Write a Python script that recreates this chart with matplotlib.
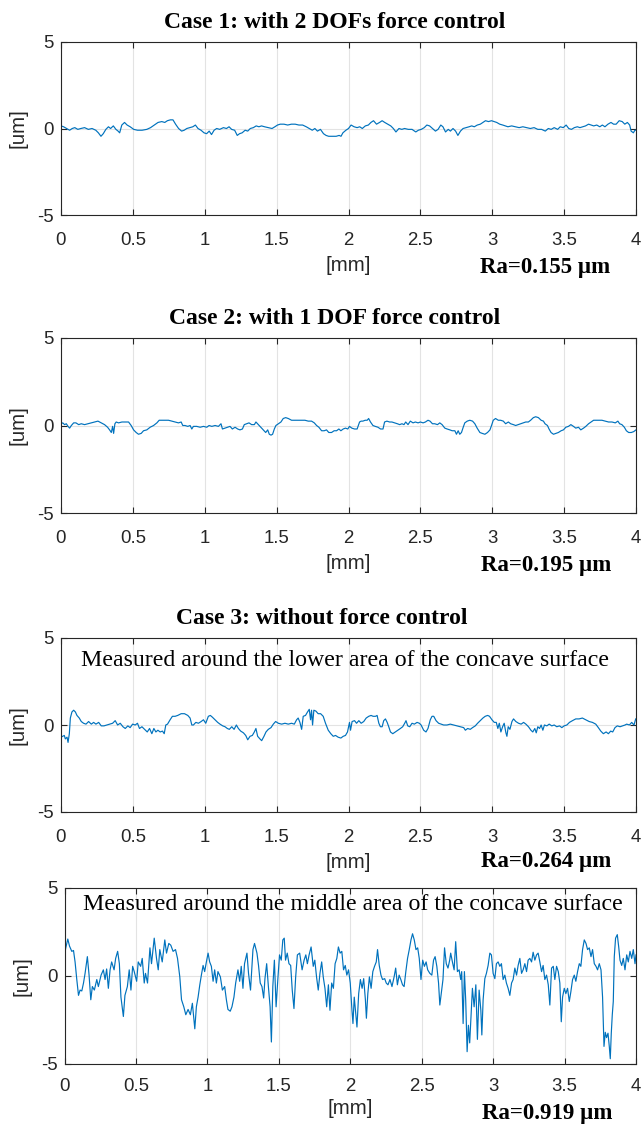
import matplotlib
matplotlib.use("Agg")
import matplotlib.pyplot as plt
import numpy as np

# --- profile data, (position [mm], height [um]) ---
case1_profile = [
    (0.000, 0.15), (0.018, 0.1), (0.039, 0.0), (0.060, -0.1), (0.078, 0.0), (0.096, 0.05),
    (0.117, -0.05), (0.138, 0.0), (0.164, 0.05), (0.190, -0.05), (0.216, 0.0), (0.242, -0.1),
    (0.260, -0.25), (0.278, -0.45), (0.294, -0.3), (0.312, -0.05), (0.330, 0.1), (0.345, 0.0),
    (0.364, 0.15), (0.382, -0.05), (0.397, -0.15), (0.408, -0.25), (0.423, 0.2), (0.442, 0.35),
    (0.460, 0.2), (0.481, 0.1), (0.506, -0.05), (0.532, -0.1), (0.564, -0.1), (0.597, -0.05),
    (0.623, 0.05), (0.649, 0.2), (0.675, 0.35), (0.701, 0.4), (0.722, 0.35), (0.740, 0.45),
    (0.761, 0.5), (0.779, 0.5), (0.797, 0.25), (0.818, 0.0), (0.839, -0.15), (0.857, -0.1),
    (0.875, 0.0), (0.896, 0.05), (0.917, 0.1), (0.935, 0.2), (0.953, 0.0), (0.974, -0.1),
    (0.995, -0.25), (1.013, -0.3), (1.031, -0.15), (1.047, -0.35), (1.065, -0.1), (1.083, 0.0),
    (1.104, -0.05), (1.130, 0.05), (1.151, 0.0), (1.169, 0.1), (1.187, -0.05), (1.208, -0.1),
    (1.226, -0.4), (1.242, -0.3), (1.260, -0.25), (1.281, -0.1), (1.299, -0.15), (1.317, 0.0),
    (1.338, 0.05), (1.358, 0.15), (1.377, 0.1), (1.395, 0.15), (1.416, 0.1), (1.442, 0.05),
    (1.468, 0.0), (1.488, 0.1), (1.506, 0.2), (1.525, 0.25), (1.551, 0.25), (1.577, 0.2),
    (1.603, 0.25), (1.629, 0.25), (1.655, 0.2), (1.681, 0.2), (1.706, 0.1), (1.727, 0.0),
    (1.748, -0.1), (1.766, 0.0), (1.784, -0.15), (1.805, -0.05), (1.826, -0.3), (1.844, -0.4),
    (1.862, -0.45), (1.888, -0.45), (1.914, -0.45), (1.935, -0.4), (1.948, -0.45), (1.961, -0.25),
    (1.982, -0.1), (2.000, 0.0), (2.018, 0.2), (2.039, 0.1), (2.060, 0.05), (2.078, 0.1),
    (2.096, 0.0), (2.117, 0.15), (2.138, 0.2), (2.156, 0.35), (2.174, 0.45), (2.195, 0.25),
    (2.216, 0.35), (2.234, 0.45), (2.252, 0.35), (2.273, 0.25), (2.294, 0.15), (2.312, 0.0),
    (2.330, -0.2), (2.351, 0.0), (2.371, -0.05), (2.390, 0.0), (2.416, -0.05), (2.442, -0.05),
    (2.468, -0.2), (2.486, -0.1), (2.506, -0.05), (2.527, 0.05), (2.545, 0.2), (2.564, 0.15),
    (2.584, 0.0), (2.605, -0.15), (2.623, -0.05), (2.642, 0.2), (2.657, 0.1), (2.675, -0.2),
    (2.694, -0.05), (2.709, -0.15), (2.727, 0.0), (2.745, -0.15), (2.761, -0.4), (2.779, -0.15),
    (2.797, 0.0), (2.818, 0.05), (2.839, 0.1), (2.857, 0.15), (2.875, 0.1), (2.896, 0.2),
    (2.917, 0.25), (2.935, 0.35), (2.953, 0.45), (2.974, 0.4), (2.995, 0.45), (3.013, 0.4),
    (3.031, 0.35), (3.052, 0.25), (3.073, 0.2), (3.091, 0.15), (3.109, 0.1), (3.135, 0.15),
    (3.161, 0.1), (3.187, 0.05), (3.213, 0.1), (3.239, 0.05), (3.265, 0.0), (3.291, 0.05),
    (3.317, -0.05), (3.343, -0.05), (3.369, -0.15), (3.390, 0.0), (3.410, -0.05), (3.431, 0.05),
    (3.455, -0.05), (3.473, 0.1), (3.494, 0.05), (3.514, 0.2), (3.532, 0.0), (3.551, -0.05),
    (3.571, 0.05), (3.592, 0.1), (3.610, 0.05), (3.629, 0.1), (3.649, 0.15), (3.670, 0.25),
    (3.688, 0.2), (3.706, 0.15), (3.727, 0.2), (3.748, 0.1), (3.766, 0.2), (3.784, 0.1),
    (3.805, 0.25), (3.826, 0.35), (3.844, 0.25), (3.862, 0.25), (3.883, 0.45), (3.904, 0.4),
    (3.922, 0.25), (3.940, 0.35), (3.956, 0.2), (3.966, -0.15), (3.982, -0.25), (3.992, -0.1),
    (4.000, -0.1),
]

case2_profile = [
    (0.000, 0.1), (0.012, 0.15), (0.025, 0.05), (0.037, 0.1), (0.049, -0.05), (0.060, -0.15),
    (0.072, 0.0), (0.088, 0.15), (0.104, 0.15), (0.123, 0.05), (0.141, 0.1), (0.164, 0.05),
    (0.188, 0.1), (0.211, 0.15), (0.234, 0.2), (0.257, 0.25), (0.280, 0.15), (0.303, 0.05),
    (0.324, -0.1), (0.338, -0.25), (0.350, -0.4), (0.359, -0.05), (0.366, -0.45), (0.375, 0.1),
    (0.384, 0.2), (0.400, 0.15), (0.424, 0.2), (0.447, 0.2), (0.470, 0.2), (0.488, 0.0),
    (0.505, -0.25), (0.523, -0.4), (0.539, -0.5), (0.558, -0.45), (0.574, -0.3), (0.597, -0.25),
    (0.620, -0.1), (0.644, 0.0), (0.667, 0.15), (0.683, 0.3), (0.701, 0.3), (0.725, 0.3),
    (0.748, 0.3), (0.771, 0.25), (0.794, 0.2), (0.817, 0.15), (0.836, 0.2), (0.847, 0.0),
    (0.863, 0.0), (0.882, -0.05), (0.898, 0.0), (0.910, -0.2), (0.921, -0.05), (0.944, -0.05),
    (0.968, -0.1), (0.991, -0.05), (1.014, -0.1), (1.030, 0.0), (1.049, -0.05), (1.072, 0.0),
    (1.095, -0.05), (1.113, 0.1), (1.123, -0.2), (1.141, -0.15), (1.160, -0.1), (1.176, -0.05),
    (1.192, -0.2), (1.211, -0.1), (1.229, -0.2), (1.245, -0.25), (1.262, -0.2), (1.275, 0.05),
    (1.292, 0.1), (1.308, 0.15), (1.326, 0.05), (1.345, 0.05), (1.356, 0.2), (1.373, 0.05),
    (1.389, -0.1), (1.407, -0.25), (1.424, -0.4), (1.438, -0.25), (1.449, -0.5), (1.461, -0.55),
    (1.472, -0.5), (1.484, -0.2), (1.495, 0.0), (1.512, 0.1), (1.530, 0.2), (1.546, 0.4),
    (1.563, 0.45), (1.581, 0.4), (1.604, 0.3), (1.627, 0.3), (1.650, 0.3), (1.674, 0.3),
    (1.697, 0.3), (1.720, 0.25), (1.743, 0.25), (1.762, 0.15), (1.778, 0.0), (1.794, -0.1),
    (1.813, -0.3), (1.831, -0.3), (1.847, -0.25), (1.863, -0.4), (1.882, -0.4), (1.900, -0.3),
    (1.917, -0.3), (1.933, -0.2), (1.947, -0.3), (1.963, -0.2), (1.979, -0.15), (1.995, -0.2),
    (2.007, -0.05), (2.023, -0.15), (2.042, -0.2), (2.060, -0.2), (2.077, 0.2), (2.088, 0.25),
    (2.100, 0.25), (2.116, 0.3), (2.130, 0.3), (2.140, 0.4), (2.153, 0.2), (2.170, 0.0),
    (2.186, -0.05), (2.205, -0.1), (2.223, -0.2), (2.240, -0.2), (2.251, 0.2), (2.267, 0.25),
    (2.286, 0.2), (2.302, 0.2), (2.321, 0.15), (2.340, 0.1), (2.356, 0.05), (2.372, 0.1),
    (2.386, 0.05), (2.398, 0.2), (2.414, 0.05), (2.430, 0.25), (2.449, 0.15), (2.465, 0.2),
    (2.484, 0.15), (2.500, 0.2), (2.519, 0.15), (2.535, 0.2), (2.553, 0.3), (2.567, 0.25),
    (2.584, 0.1), (2.600, 0.1), (2.619, 0.05), (2.635, 0.15), (2.651, 0.05), (2.670, -0.15),
    (2.686, -0.2), (2.705, -0.25), (2.721, -0.3), (2.740, -0.3), (2.751, -0.5), (2.763, -0.3),
    (2.774, -0.5), (2.786, -0.4), (2.798, -0.1), (2.809, 0.15), (2.826, 0.25), (2.844, 0.3),
    (2.863, 0.25), (2.879, 0.1), (2.895, -0.15), (2.914, -0.4), (2.930, -0.45), (2.949, -0.5),
    (2.967, -0.4), (2.984, -0.25), (2.995, 0.0), (3.007, 0.3), (3.023, 0.4), (3.042, 0.3),
    (3.058, 0.3), (3.077, 0.25), (3.093, 0.1), (3.112, 0.2), (3.128, 0.1), (3.147, 0.05),
    (3.163, 0.0), (3.181, 0.05), (3.198, 0.1), (3.216, 0.15), (3.233, 0.2), (3.251, 0.2),
    (3.267, 0.3), (3.286, 0.45), (3.302, 0.5), (3.321, 0.45), (3.340, 0.3), (3.356, 0.25),
    (3.367, 0.1), (3.384, 0.0), (3.395, -0.2), (3.409, -0.4), (3.426, -0.5), (3.442, -0.45),
    (3.460, -0.4), (3.479, -0.3), (3.495, -0.25), (3.512, -0.1), (3.530, -0.05), (3.547, 0.05),
    (3.565, -0.05), (3.581, -0.15), (3.600, -0.1), (3.616, -0.25), (3.635, -0.15), (3.651, -0.05),
    (3.670, 0.1), (3.688, 0.2), (3.705, 0.3), (3.721, 0.3), (3.740, 0.3), (3.763, 0.3),
    (3.786, 0.25), (3.809, 0.2), (3.833, 0.2), (3.856, 0.15), (3.874, 0.25), (3.886, 0.1),
    (3.902, 0.05), (3.919, -0.1), (3.933, -0.3), (3.949, -0.4), (3.967, -0.4), (3.984, -0.35),
    (4.000, -0.25),
]

case3_lower_profile = [
    (0.000, -0.7), (0.012, -0.65), (0.023, -0.6), (0.030, -0.8), (0.042, -0.7), (0.049, -1.0),
    (0.058, -0.5), (0.065, 0.4), (0.076, 0.75), (0.088, 0.85), (0.100, 0.75), (0.111, 0.55),
    (0.127, 0.4), (0.141, 0.2), (0.157, 0.1), (0.174, 0.05), (0.192, 0.2), (0.211, 0.05),
    (0.227, 0.15), (0.243, 0.05), (0.262, 0.15), (0.280, -0.05), (0.299, -0.05), (0.319, 0.0),
    (0.338, 0.05), (0.359, 0.1), (0.377, 0.25), (0.394, 0.0), (0.412, 0.1), (0.431, -0.1),
    (0.447, -0.2), (0.465, -0.05), (0.481, -0.15), (0.498, 0.05), (0.516, 0.0), (0.532, 0.1),
    (0.546, -0.2), (0.563, -0.1), (0.581, -0.25), (0.600, -0.4), (0.616, -0.2), (0.632, -0.5),
    (0.646, -0.2), (0.660, -0.4), (0.674, -0.3), (0.690, -0.4), (0.706, -0.35), (0.718, -0.5),
    (0.729, 0.0), (0.741, 0.05), (0.759, 0.3), (0.775, 0.5), (0.794, 0.5), (0.812, 0.55),
    (0.836, 0.65), (0.859, 0.65), (0.882, 0.55), (0.898, 0.4), (0.910, 0.0), (0.921, 0.0),
    (0.938, 0.15), (0.956, 0.1), (0.975, 0.2), (0.991, 0.3), (1.007, 0.1), (1.025, 0.5),
    (1.039, 0.55), (1.053, 0.45), (1.072, 0.3), (1.090, 0.15), (1.106, 0.05), (1.125, -0.05),
    (1.141, -0.1), (1.157, -0.2), (1.171, -0.25), (1.188, -0.1), (1.204, -0.25), (1.220, 0.0),
    (1.234, -0.2), (1.250, -0.35), (1.269, -0.45), (1.285, -0.6), (1.299, -0.85), (1.315, -0.65),
    (1.331, -0.6), (1.345, -0.4), (1.356, -0.2), (1.368, -0.65), (1.384, -0.8), (1.396, -0.9),
    (1.412, -0.65), (1.426, -0.4), (1.442, -0.25), (1.461, -0.15), (1.477, 0.05), (1.493, 0.2),
    (1.512, 0.1), (1.535, 0.05), (1.558, 0.1), (1.581, 0.05), (1.604, 0.1), (1.623, 0.05),
    (1.639, 0.3), (1.650, 0.4), (1.662, 0.15), (1.674, -0.25), (1.685, 0.5), (1.701, 0.55),
    (1.715, 0.75), (1.727, 0.9), (1.736, 0.3), (1.743, 0.85), (1.750, 0.0), (1.759, 0.85),
    (1.773, 0.8), (1.789, 0.65), (1.806, 0.65), (1.824, 0.5), (1.840, 0.1), (1.859, -0.3),
    (1.877, -0.5), (1.894, -0.65), (1.910, -0.6), (1.928, -0.7), (1.947, -0.75), (1.963, -0.65),
    (1.979, -0.6), (1.993, -0.4), (2.007, 0.15), (2.014, -0.3), (2.025, 0.2), (2.042, 0.25),
    (2.056, 0.1), (2.072, 0.25), (2.088, 0.1), (2.106, 0.2), (2.123, 0.4), (2.141, 0.5),
    (2.157, 0.55), (2.171, 0.5), (2.188, 0.5), (2.199, 0.55), (2.211, 0.1), (2.222, -0.1),
    (2.234, -0.1), (2.245, 0.25), (2.257, 0.35), (2.269, 0.15), (2.280, -0.1), (2.292, -0.4),
    (2.308, -0.5), (2.326, -0.4), (2.343, -0.3), (2.361, -0.2), (2.377, -0.1), (2.391, 0.1),
    (2.400, 0.25), (2.412, -0.05), (2.426, -0.1), (2.442, 0.1), (2.458, 0.05), (2.477, 0.15),
    (2.493, 0.1), (2.505, 0.0), (2.523, -0.3), (2.539, -0.4), (2.553, -0.2), (2.569, 0.3),
    (2.581, 0.5), (2.593, 0.5), (2.609, 0.25), (2.627, 0.1), (2.644, 0.05), (2.662, 0.0),
    (2.685, 0.0), (2.708, 0.05), (2.731, 0.0), (2.755, -0.05), (2.778, -0.1), (2.801, -0.15),
    (2.813, -0.3), (2.829, -0.2), (2.847, -0.25), (2.863, -0.15), (2.882, -0.05), (2.898, 0.1),
    (2.917, 0.25), (2.935, 0.4), (2.951, 0.5), (2.968, 0.55), (2.981, 0.5), (2.998, 0.3),
    (3.014, 0.15), (3.028, 0.15), (3.039, -0.2), (3.049, 0.1), (3.060, -0.4), (3.072, -0.1),
    (3.083, 0.1), (3.095, -0.45), (3.102, -0.65), (3.111, -0.1), (3.123, -0.25), (3.137, 0.2),
    (3.148, 0.35), (3.164, 0.2), (3.183, 0.1), (3.201, 0.05), (3.218, 0.15), (3.234, 0.05),
    (3.252, -0.1), (3.269, -0.3), (3.282, -0.4), (3.296, -0.2), (3.306, -0.45), (3.317, -0.1),
    (3.329, -0.2), (3.340, 0.0), (3.352, -0.3), (3.363, 0.0), (3.380, -0.05), (3.396, 0.05),
    (3.414, -0.05), (3.431, 0.0), (3.449, -0.1), (3.468, -0.05), (3.484, -0.15), (3.500, -0.05),
    (3.519, 0.0), (3.537, 0.15), (3.558, 0.25), (3.581, 0.35), (3.604, 0.35), (3.627, 0.4),
    (3.650, 0.3), (3.674, 0.2), (3.697, 0.15), (3.720, 0.05), (3.738, -0.15), (3.755, -0.35),
    (3.773, -0.5), (3.792, -0.4), (3.808, -0.5), (3.824, -0.35), (3.838, -0.4), (3.854, -0.15),
    (3.870, -0.05), (3.889, -0.1), (3.907, -0.05), (3.924, 0.0), (3.935, 0.05), (3.954, 0.0),
    (3.970, 0.15), (3.986, 0.0), (3.998, 0.35),
]

case3_middle_profile = [
    (0.000, 1.2), (0.009, 1.6), (0.023, 2.1), (0.035, 1.7), (0.051, 1.4), (0.063, 1.45),
    (0.074, 0.8), (0.086, -0.2), (0.098, -1.1), (0.109, -0.8), (0.121, -0.85), (0.133, -0.4),
    (0.144, 0.15), (0.160, 1.1), (0.172, 0.05), (0.184, -1.35), (0.195, -0.6), (0.209, -0.8),
    (0.226, -0.2), (0.237, -0.6), (0.256, 0.05), (0.272, 0.35), (0.284, -0.2), (0.295, 0.4),
    (0.307, -0.7), (0.319, 0.35), (0.330, 0.8), (0.347, 0.35), (0.358, 1.0), (0.372, 1.4),
    (0.384, 0.7), (0.395, -1.2), (0.412, -2.3), (0.423, -1.1), (0.440, -0.6), (0.453, 0.35),
    (0.465, -0.8), (0.477, 0.55), (0.488, 0.25), (0.505, -0.3), (0.516, 0.8), (0.533, 0.55),
    (0.544, 1.0), (0.558, -0.4), (0.567, 0.15), (0.581, -0.4), (0.598, 1.6), (0.609, 0.7),
    (0.628, 2.15), (0.644, 1.0), (0.656, 0.35), (0.667, 1.5), (0.684, 0.8), (0.702, 2.05),
    (0.714, 1.3), (0.730, 1.85), (0.744, 1.75), (0.760, 1.4), (0.777, 1.5), (0.791, 1.0),
    (0.807, -0.05), (0.819, -1.35), (0.835, -1.75), (0.849, -2.2), (0.865, -1.9), (0.881, -2.2),
    (0.895, -1.55), (0.912, -3.0), (0.923, -1.75), (0.935, -1.2), (0.947, -0.5), (0.958, 0.05),
    (0.970, 0.6), (0.981, 0.25), (0.993, 0.8), (1.005, 1.3), (1.016, 0.8), (1.028, 0.55),
    (1.040, -0.3), (1.051, 0.35), (1.063, -0.4), (1.074, 0.25), (1.091, -0.05), (1.105, -0.8),
    (1.121, -0.6), (1.133, -1.35), (1.144, -1.9), (1.160, -2.0), (1.172, -1.75), (1.186, -1.2),
    (1.198, -0.4), (1.214, 0.35), (1.226, -0.3), (1.237, 0.55), (1.249, -0.7), (1.260, 0.7),
    (1.277, 1.3), (1.288, 0.15), (1.302, -0.8), (1.319, 1.5), (1.330, 1.85), (1.347, 1.3),
    (1.358, 0.6), (1.370, -0.4), (1.382, -0.6), (1.394, -1.25), (1.403, -0.15), (1.415, 0.7),
    (1.427, -0.6), (1.439, -1.75), (1.448, -3.75), (1.458, -0.6), (1.469, 0.9), (1.481, -1.75),
    (1.493, -0.2), (1.505, 1.2), (1.517, 0.9), (1.528, 2.05), (1.538, 2.15), (1.547, 0.9),
    (1.559, 1.3), (1.571, 0.7), (1.583, 0.6), (1.594, -0.8), (1.606, -1.85), (1.618, -0.05),
    (1.630, 1.2), (1.646, 1.3), (1.663, 0.35), (1.677, 0.9), (1.689, 1.2), (1.700, 0.7),
    (1.712, 1.2), (1.726, 1.65), (1.741, 0.55), (1.752, 0.9), (1.764, -0.05), (1.776, -0.8),
    (1.788, 0.15), (1.800, 0.8), (1.811, -0.05), (1.823, -0.7), (1.835, -1.75), (1.847, -0.5),
    (1.858, -1.95), (1.870, -0.4), (1.882, -0.7), (1.894, 0.7), (1.906, 1.0), (1.917, 1.65),
    (1.929, 1.3), (1.941, 1.4), (1.953, 0.35), (1.965, 0.6), (1.976, 0.05), (1.988, 0.35),
    (2.000, -0.4), (2.012, -1.95), (2.019, -2.7), (2.028, -1.2), (2.038, -2.1), (2.047, -2.9),
    (2.059, -1.0), (2.071, -0.2), (2.083, -0.7), (2.094, -0.15), (2.106, -1.35), (2.113, -2.4),
    (2.123, -1.0), (2.134, -0.05), (2.146, -0.7), (2.158, 0.25), (2.170, 0.55), (2.182, 0.8),
    (2.191, 1.5), (2.203, 0.6), (2.215, 0.05), (2.226, -0.2), (2.241, -0.15), (2.252, -0.4),
    (2.264, -0.5), (2.278, -0.2), (2.292, -0.6), (2.307, -0.05), (2.318, 0.45), (2.330, -0.5),
    (2.342, 0.05), (2.354, -0.2), (2.366, -0.5), (2.377, -0.6), (2.389, 0.25), (2.401, 1.0),
    (2.413, 1.5), (2.425, 2.05), (2.436, 2.4), (2.448, 2.05), (2.460, 1.5), (2.472, 1.6),
    (2.483, 1.0), (2.495, -0.2), (2.507, 0.9), (2.519, 0.55), (2.531, 0.8), (2.542, 0.35),
    (2.557, 0.15), (2.571, 0.05), (2.583, 0.9), (2.594, 1.1), (2.606, 0.55), (2.618, -0.4),
    (2.627, -1.65), (2.637, -1.0), (2.649, -0.2), (2.660, 1.6), (2.672, 0.7), (2.684, 0.45),
    (2.696, 0.9), (2.703, 1.3), (2.715, 0.8), (2.727, 0.35), (2.738, 1.95), (2.750, 0.25),
    (2.762, 0.35), (2.773, -0.2), (2.780, 0.25), (2.790, -2.7), (2.799, 0.25), (2.808, -1.35),
    (2.818, -4.3), (2.827, -2.8), (2.836, -3.8), (2.846, -2.1), (2.855, -0.7), (2.867, -1.75),
    (2.879, -0.5), (2.890, -3.6), (2.902, -0.8), (2.914, -1.95), (2.921, -3.35), (2.930, -1.35),
    (2.942, -0.15), (2.953, 0.15), (2.965, 0.6), (2.977, 1.3), (2.988, 1.2), (3.000, 0.15),
    (3.012, -0.15), (3.023, 0.7), (3.035, 0.8), (3.047, 0.55), (3.058, 0.7), (3.070, -0.2),
    (3.082, 0.05), (3.093, -0.4), (3.105, -0.7), (3.117, -1.1), (3.129, -0.4), (3.140, -0.2),
    (3.152, 0.45), (3.164, 0.05), (3.175, 0.6), (3.187, 1.0), (3.199, 0.15), (3.210, 0.35),
    (3.222, 0.7), (3.234, 0.25), (3.245, 0.9), (3.257, 1.0), (3.269, 0.8), (3.280, 1.35),
    (3.292, 0.9), (3.304, 1.2), (3.315, 1.3), (3.327, 0.8), (3.339, 0.25), (3.350, 0.6),
    (3.362, -0.2), (3.374, 0.05), (3.386, -0.5), (3.397, -1.65), (3.409, 0.45), (3.421, 0.55),
    (3.432, -0.2), (3.444, 0.55), (3.456, 0.25), (3.467, -0.4), (3.477, -2.6), (3.486, -1.2),
    (3.498, -0.7), (3.509, -1.0), (3.521, -0.7), (3.533, -1.45), (3.544, -0.9), (3.556, -0.2),
    (3.568, 0.05), (3.579, -0.3), (3.591, 0.25), (3.603, 0.7), (3.614, 0.55), (3.626, 1.5),
    (3.638, 2.05), (3.650, 1.85), (3.661, 1.5), (3.673, 1.6), (3.685, 1.1), (3.696, 1.5),
    (3.708, 0.7), (3.720, 0.55), (3.731, 0.35), (3.743, 0.7), (3.755, 0.35), (3.766, -1.2),
    (3.776, -4.0), (3.785, -3.2), (3.794, -3.5), (3.804, -3.25), (3.813, -4.0), (3.820, -4.7),
    (3.827, -3.25), (3.834, -2.2), (3.841, -1.45), (3.848, 1.1), (3.857, 2.15), (3.869, 2.35),
    (3.879, 1.65), (3.888, 0.9), (3.900, 0.6), (3.911, 1.0), (3.923, 0.35), (3.935, 1.2),
    (3.946, 0.8), (3.958, 1.4), (3.970, 1.0), (3.981, 1.5), (3.993, 0.7), (4.000, 1.2),
]

panel_titles = ["Case 1: with 2 DOFs force control", "Case 2: with 1 DOF force control",
                "Case 3: without force control", None]
panel_notes = [None, None, "Measured around the lower area of the concave surface",
               "Measured around the middle area of the concave surface"]
ra_values = [0.155, 0.195, 0.264, 0.919]
x_ticks = [0, 0.5, 1, 1.5, 2, 2.5, 3, 3.5, 4]
x_tick_labels = ["0", "0.5", "1", "1.5", "2", "2.5", "3", "3.5", "4"]
y_ticks = [-5, 0, 5]
profiles = [case1_profile, case2_profile, case3_lower_profile, case3_middle_profile]

# --- layout (pixel boxes of the 641x1125 figure) ---
W, H = 641, 1125
axes_px = [(61, 42, 636, 215), (61, 338, 636, 513), (61, 638, 636, 812), (64.5, 888, 636, 1064)]
title_px = [(335, 22), (335, 318), (322, 619), None]
note_px = [None, None, (345, 661), (353, 904)]
ra_px = [(545, 267), (546, 565), (546, 861), (547, 1113)]
xlabel_pads = [5, 5, 5, 3]
xtick_pads = [12, 12, 12, 10]

LINE_BLUE = "#0072BD"
SANS = "Liberation Sans"
SERIF = "Liberation Serif"

plt.rcParams["axes.unicode_minus"] = False

fig = plt.figure(figsize=(W / 100, H / 100), dpi=100)

for i, prof in enumerate(profiles):
    l, t, r, b = axes_px[i]
    ax = fig.add_axes([l / W, 1 - b / H, (r - l) / W, (b - t) / H])
    xs = [p[0] for p in prof]
    ys = [p[1] for p in prof]
    ax.plot(xs, ys, color=LINE_BLUE, lw=0.85)
    ax.set_xlim(0, 4)
    ax.set_ylim(-5, 5)
    ax.set_xticks(x_ticks)
    ax.set_xticklabels(x_tick_labels)
    ax.set_yticks(y_ticks)
    ax.grid(True, color="#e3e3e3", lw=0.8)
    ax.set_axisbelow(True)
    for s in ax.spines.values():
        s.set_color("#262626")
        s.set_linewidth(0.8)
    ax.tick_params(direction="in", top=True, right=True, length=4, width=0.8,
                   color="#262626", labelsize=13.4, labelcolor="#262626")
    ax.tick_params(axis="x", pad=xtick_pads[i])
    ax.tick_params(axis="y", pad=5)
    for lab in ax.get_xticklabels() + ax.get_yticklabels():
        lab.set_family(SANS)
    ax.set_ylabel("[um]", family=SANS, fontsize=14.8, color="#262626", labelpad=7)
    ax.set_xlabel("[mm]", family=SANS, fontsize=14.8, color="#262626", labelpad=xlabel_pads[i])

    if panel_titles[i]:
        tx, ty = title_px[i]
        fig.text(tx / W, 1 - ty / H, panel_titles[i], ha="center", va="center",
                 family=SERIF, fontweight="bold", fontsize=17)
    if panel_notes[i]:
        nx, ny = note_px[i]
        fig.text(nx / W, 1 - ny / H, panel_notes[i], ha="center", va="center",
                 family=SERIF, fontsize=17.2)
    rx, ry = ra_px[i]
    fig.text(rx / W, 1 - ry / H, f"Ra={ra_values[i]:.3f} \u00b5m", ha="center", va="center",
             family=SERIF, fontweight="bold", fontsize=16.5)

fig.savefig("out.png", dpi=100)
